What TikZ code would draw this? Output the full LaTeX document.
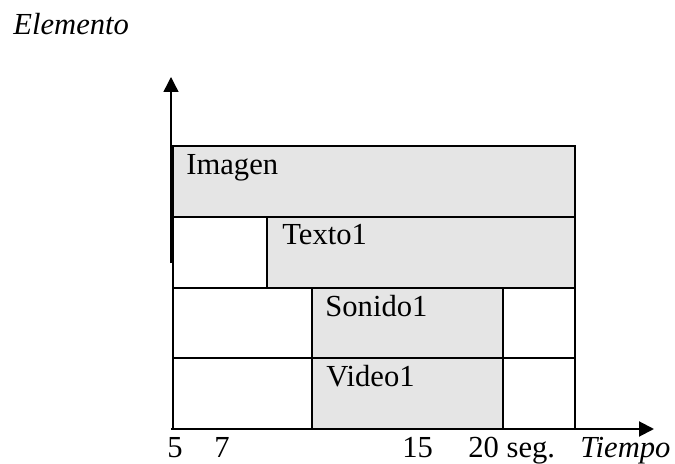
\documentclass[tikz,border=0pt]{standalone}
\usepackage{fontspec}
\setmainfont{Liberation Serif}
\usetikzlibrary{arrows.meta}
\definecolor{barfill}{gray}{0.9}

\begin{document}
\begin{tikzpicture}[x=0.5pt, y=-0.5pt, >={Triangle[length=7.5pt,width=7.5pt]},
    font=\fontsize{15.3}{18}\selectfont,
    cell/.style={draw, line width=1pt},
    bar/.style={cell, fill=barfill},
    lbl/.style={anchor=base west, inner sep=0pt}]
  \useasboundingbox (0,0) rectangle (675,464);
  % axis ends
  \coordinate (Yfoot) at (171,263); \coordinate (Ytop) at (171,77);
  \coordinate (O) at (171,429); \coordinate (Xend) at (654,429);
  % Imagen row
  \draw[bar] (173,146) rectangle (575,217);
  % Texto1 row
  \draw[cell] (173,217) rectangle (267,288);
  \draw[bar] (267,217) rectangle (575,288);
  % Sonido1 row
  \draw[cell] (173,288) rectangle (312,358);
  \draw[bar] (312,288) rectangle (503,358);
  \draw[cell] (503,288) rectangle (575,358);
  % Video1 row
  \draw[cell] (173,358) rectangle (312,429);
  \draw[bar] (312,358) rectangle (503,429);
  \draw[cell] (503,358) rectangle (575,429);
  % axes
  \draw[line width=0.7pt, ->] (Yfoot) -- (Ytop);
  \draw[line width=1pt, ->] (O) -- (Xend);
  % labels
  \node[lbl] (elem) at (13,35) {\itshape Elemento};
  \node[lbl] (imagen) at (186,175) {Imagen};
  \node[lbl] (texto) at (282,245) {Texto1};
  \node[lbl] (sonido) at (325,317) {Sonido1};
  \node[lbl] (video) at (326,387) {Video1};
  \node[lbl] (t5) at (167,458) {5};
  \node[lbl] (t7) at (214,458) {7};
  \node[lbl] (t15) at (402,458) {15};
  \node[lbl] (t20) at (468,458) {20 seg.};
  \node[lbl] (tiempo) at (580,458) {\itshape Tiempo};
\end{tikzpicture}
\end{document}
